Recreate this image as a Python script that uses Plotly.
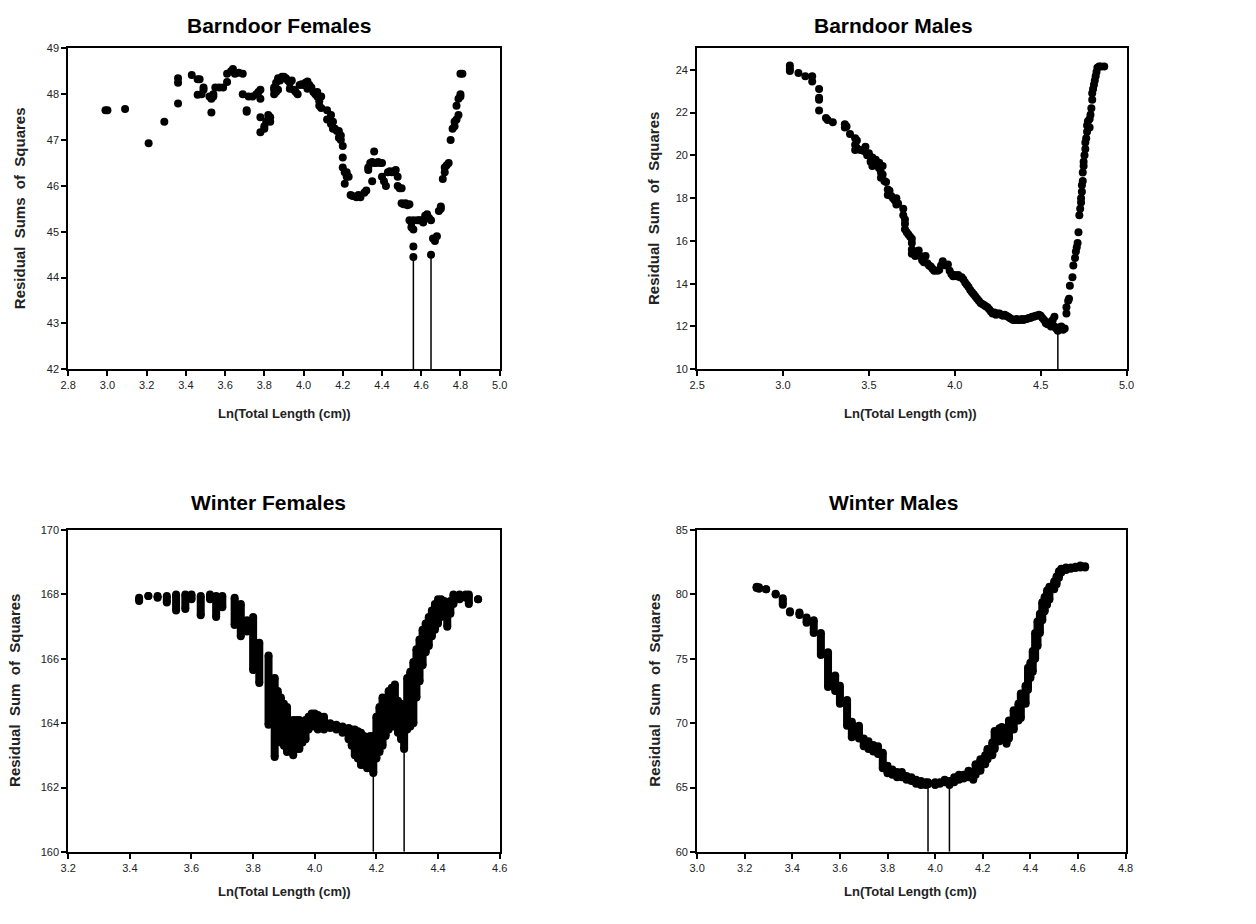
import plotly.graph_objects as go

# ---------------- data ----------------
barndoor_females_points = [
    (2.99, 47.65), (3.00, 47.65), (3.09, 47.68), (3.21, 46.93), (3.29, 47.40),
    (3.36, 48.25), (3.36, 48.35), (3.36, 47.80), (3.43, 48.42), (3.46, 48.33),
    (3.47, 48.33), (3.46, 47.99), (3.48, 48.00), (3.49, 48.10), (3.49, 48.15),
    (3.52, 47.95), (3.53, 47.60), (3.53, 47.90), (3.54, 47.95), (3.54, 48.00),
    (3.55, 48.15), (3.57, 48.15), (3.59, 48.15), (3.61, 48.27), (3.61, 48.45),
    (3.63, 48.50), (3.64, 48.55), (3.65, 48.45), (3.67, 48.47), (3.69, 48.45),
    (3.69, 48.00), (3.71, 47.62), (3.71, 47.65), (3.72, 47.95), (3.74, 47.95),
    (3.76, 48.00), (3.77, 48.05), (3.78, 48.10), (3.78, 47.90), (3.78, 47.50),
    (3.78, 47.17), (3.80, 47.30), (3.80, 47.25), (3.81, 47.40), (3.82, 47.45),
    (3.82, 47.55), (3.83, 47.50), (3.83, 47.40), (3.85, 48.00), (3.85, 48.10),
    (3.85, 48.15), (3.86, 48.05), (3.86, 48.25), (3.87, 48.35), (3.87, 48.10),
    (3.88, 48.30), (3.89, 48.38), (3.90, 48.38), (3.91, 48.35), (3.92, 48.30),
    (3.93, 48.25), (3.93, 48.12), (3.94, 48.30), (3.95, 48.10), (3.96, 48.05),
    (3.97, 48.00), (3.98, 48.20), (3.99, 48.22), (4.00, 48.20), (4.01, 48.25),
    (4.02, 48.28), (4.02, 48.12), (4.03, 48.20), (4.04, 48.15), (4.05, 48.05),
    (4.06, 48.00), (4.07, 48.05), (4.07, 47.95), (4.08, 47.85), (4.08, 47.75),
    (4.09, 47.95), (4.09, 47.70), (4.12, 47.65), (4.12, 47.45), (4.13, 47.45),
    (4.14, 47.55), (4.14, 47.35), (4.15, 47.40), (4.15, 47.25), (4.16, 47.25),
    (4.17, 47.20), (4.18, 47.20), (4.18, 47.05), (4.19, 47.00), (4.19, 47.10),
    (4.20, 46.87), (4.20, 46.62), (4.20, 46.40), (4.21, 46.30), (4.21, 46.05),
    (4.22, 46.20), (4.22, 46.30), (4.23, 46.20), (4.24, 45.80), (4.25, 45.78),
    (4.27, 45.75), (4.28, 45.80), (4.29, 45.75), (4.31, 45.85), (4.32, 45.90),
    (4.33, 46.35), (4.33, 46.40), (4.34, 46.50), (4.35, 46.52), (4.35, 46.10),
    (4.36, 46.75), (4.36, 46.50), (4.37, 46.50), (4.38, 46.52), (4.39, 46.50),
    (4.40, 46.50), (4.40, 46.20), (4.41, 46.10), (4.42, 46.00), (4.43, 46.30),
    (4.44, 46.32), (4.45, 46.30), (4.46, 46.32), (4.47, 46.35), (4.48, 46.20),
    (4.48, 46.00), (4.49, 45.95), (4.50, 45.95), (4.50, 45.62), (4.51, 45.60),
    (4.52, 45.62), (4.53, 45.58), (4.54, 45.60), (4.54, 45.25), (4.55, 45.20),
    (4.55, 45.10), (4.56, 45.25), (4.56, 45.05), (4.56, 44.68), (4.56, 44.45),
    (4.58, 45.25), (4.59, 45.25), (4.60, 45.25), (4.61, 45.20), (4.62, 45.35),
    (4.63, 45.38), (4.64, 45.30), (4.65, 45.25), (4.65, 44.50), (4.66, 44.85),
    (4.67, 44.80), (4.68, 44.90), (4.69, 45.45), (4.70, 45.50), (4.70, 45.55),
    (4.71, 46.15), (4.72, 46.30), (4.72, 46.40), (4.73, 46.45), (4.74, 46.50),
    (4.75, 47.00), (4.76, 47.25), (4.77, 47.30), (4.77, 47.40), (4.78, 47.45),
    (4.78, 47.75), (4.79, 47.55), (4.79, 47.90), (4.80, 48.00), (4.80, 47.95),
    (4.80, 48.45), (4.81, 48.45),
]

barndoor_males_points = [
    (3.04, 24.20), (3.04, 24.05), (3.04, 23.95), (3.09, 23.85), (3.13, 23.70),
    (3.17, 23.70), (3.17, 23.45), (3.21, 23.10), (3.21, 22.70), (3.21, 22.60),
    (3.21, 22.10), (3.25, 21.75), (3.26, 21.65), (3.29, 21.55), (3.36, 21.45),
    (3.36, 21.30), (3.37, 21.35), (3.39, 21.00), (3.42, 20.80), (3.42, 20.50),
    (3.42, 20.25), (3.43, 20.35), (3.43, 20.70), (3.45, 20.25), (3.47, 20.20),
    (3.48, 20.40), (3.49, 20.00), (3.50, 20.10), (3.51, 19.70), (3.52, 19.90),
    (3.52, 19.50), (3.53, 19.60), (3.54, 19.80), (3.55, 19.50), (3.56, 19.40),
    (3.56, 19.65), (3.57, 19.20), (3.57, 18.95), (3.58, 19.50), (3.58, 19.10),
    (3.59, 18.80), (3.60, 18.75), (3.61, 18.40), (3.61, 18.15), (3.62, 18.35),
    (3.63, 18.10), (3.64, 18.00), (3.65, 17.90), (3.66, 17.70), (3.66, 18.00),
    (3.67, 17.75), (3.70, 17.50), (3.70, 17.20), (3.71, 17.00), (3.71, 16.80),
    (3.71, 16.55), (3.72, 16.40), (3.73, 16.30), (3.74, 16.20), (3.75, 15.90),
    (3.75, 16.10), (3.75, 15.60), (3.75, 15.40), (3.76, 15.50), (3.77, 15.30),
    (3.78, 15.50), (3.79, 15.55), (3.80, 15.30), (3.81, 15.10), (3.82, 15.00),
    (3.83, 15.30), (3.84, 14.95), (3.85, 14.85), (3.86, 14.80), (3.87, 14.70),
    (3.88, 14.60), (3.90, 14.60), (3.91, 14.65), (3.92, 14.85), (3.93, 15.05),
    (3.95, 14.85), (3.96, 14.90), (3.97, 14.60), (3.98, 14.45), (3.99, 14.35),
    (4.00, 14.40), (4.01, 14.35), (4.02, 14.40), (4.03, 14.30), (4.04, 14.30),
    (4.05, 14.20), (4.06, 14.05), (4.07, 13.95), (4.08, 13.85), (4.09, 13.70),
    (4.10, 13.60), (4.11, 13.50), (4.12, 13.40), (4.13, 13.30), (4.14, 13.20),
    (4.15, 13.10), (4.16, 13.05), (4.17, 13.00), (4.18, 12.95), (4.19, 12.90),
    (4.20, 12.80), (4.21, 12.70), (4.22, 12.60), (4.23, 12.65), (4.24, 12.55),
    (4.25, 12.60), (4.26, 12.60), (4.27, 12.55), (4.28, 12.50), (4.29, 12.55),
    (4.30, 12.50), (4.31, 12.45), (4.32, 12.40), (4.33, 12.35), (4.34, 12.30),
    (4.35, 12.30), (4.36, 12.35), (4.37, 12.30), (4.38, 12.30), (4.39, 12.35),
    (4.40, 12.30), (4.41, 12.35), (4.42, 12.35), (4.43, 12.40), (4.44, 12.40),
    (4.45, 12.45), (4.46, 12.45), (4.47, 12.50), (4.48, 12.50), (4.49, 12.55),
    (4.50, 12.50), (4.51, 12.40), (4.52, 12.30), (4.53, 12.15), (4.54, 12.10),
    (4.55, 12.20), (4.56, 12.00), (4.57, 12.30), (4.58, 12.45), (4.58, 12.00),
    (4.59, 11.90), (4.60, 11.80), (4.61, 11.95), (4.62, 12.00), (4.63, 11.85),
    (4.64, 11.90), (4.65, 12.60), (4.65, 12.90), (4.66, 13.20), (4.665, 13.30),
    (4.67, 13.90), (4.685, 14.30), (4.69, 14.85), (4.70, 15.20), (4.705, 15.50),
    (4.71, 15.70), (4.715, 15.90), (4.72, 16.40), (4.725, 17.20), (4.73, 17.50),
    (4.735, 17.80), (4.735, 18.00), (4.74, 18.30), (4.74, 18.60), (4.745, 18.80),
    (4.745, 19.20), (4.75, 19.50), (4.75, 19.70), (4.755, 20.00), (4.76, 20.30),
    (4.76, 20.60), (4.765, 20.80), (4.77, 21.10), (4.77, 21.40), (4.775, 21.60),
    (4.785, 21.70), (4.785, 21.30), (4.79, 21.90), (4.795, 22.20), (4.80, 22.60),
    (4.80, 22.90), (4.805, 23.10), (4.81, 23.30), (4.815, 23.50), (4.82, 23.70),
    (4.825, 23.90), (4.83, 24.10), (4.84, 24.15), (4.85, 24.15), (4.87, 24.15),
]

# (x, top, bottom) of each column of overlapping points
winter_females_stacks = [
    (3.43, 167.90, 167.80), (3.46, 167.95, 167.95), (3.49, 167.95, 167.90),
    (3.52, 167.95, 167.75), (3.55, 168.00, 167.50), (3.58, 168.00, 167.55),
    (3.60, 168.00, 167.85), (3.63, 167.95, 167.35), (3.66, 168.00, 167.85),
    (3.68, 167.95, 167.30), (3.70, 167.95, 167.60), (3.74, 167.90, 167.05),
    (3.76, 167.70, 166.70), (3.78, 167.20, 166.85), (3.79, 167.10, 166.90),
    (3.80, 167.30, 165.65), (3.82, 166.50, 165.25), (3.85, 166.10, 163.95),
    (3.87, 165.40, 162.95), (3.88, 165.00, 163.50), (3.89, 164.80, 163.40),
    (3.90, 164.60, 163.30), (3.91, 164.50, 163.10), (3.92, 164.00, 163.30),
    (3.93, 164.10, 163.00), (3.94, 164.10, 163.20), (3.95, 164.10, 163.20),
    (3.96, 164.00, 163.40), (3.97, 164.10, 163.50), (3.98, 164.20, 163.80),
    (3.99, 164.30, 163.90), (4.00, 164.30, 163.90), (4.01, 164.25, 163.80),
    (4.02, 164.20, 163.85), (4.03, 164.20, 163.80), (4.05, 164.00, 163.85),
    (4.07, 163.95, 163.80), (4.09, 163.90, 163.70), (4.11, 163.85, 163.50),
    (4.12, 163.80, 163.30), (4.13, 163.80, 163.00), (4.14, 163.75, 162.90),
    (4.15, 163.70, 162.70), (4.16, 163.60, 162.70), (4.17, 163.50, 162.60),
    (4.18, 163.60, 162.60), (4.19, 163.60, 162.45),
    (4.20, 164.20, 162.90), (4.21, 164.50, 163.10), (4.22, 164.80, 163.30),
    (4.23, 164.70, 163.60), (4.24, 165.00, 163.80), (4.25, 165.10, 163.90),
    (4.26, 165.20, 163.90), (4.27, 164.70, 163.70), (4.28, 164.60, 163.50),
    (4.29, 164.30, 163.20),
    (4.30, 165.40, 163.80), (4.31, 165.60, 163.90), (4.32, 165.90, 164.00),
    (4.33, 166.30, 164.80), (4.34, 166.60, 165.30), (4.35, 166.90, 165.80),
    (4.36, 167.10, 166.20), (4.37, 167.30, 166.40), (4.38, 167.50, 166.70),
    (4.39, 167.70, 166.90), (4.40, 167.85, 167.10), (4.41, 167.85, 167.30),
    (4.42, 167.80, 167.40), (4.43, 167.70, 167.00), (4.44, 167.80, 167.40),
    (4.45, 168.00, 167.70), (4.47, 168.00, 167.85), (4.49, 168.00, 167.90),
    (4.50, 168.00, 167.70), (4.53, 167.85, 167.85),
]

winter_males_stacks = [
    (3.25, 80.60, 80.50), (3.26, 80.55, 80.45), (3.29, 80.40, 80.40),
    (3.33, 80.05, 80.00), (3.36, 79.70, 79.20), (3.39, 78.70, 78.60),
    (3.43, 78.60, 78.40), (3.46, 78.20, 77.80), (3.49, 78.00, 77.00),
    (3.52, 77.00, 75.30), (3.55, 75.50, 72.80), (3.58, 73.70, 72.50),
    (3.60, 72.90, 71.50), (3.63, 71.80, 69.80), (3.65, 70.10, 68.90),
    (3.68, 69.80, 68.80), (3.70, 68.80, 68.20), (3.72, 68.60, 68.00),
    (3.74, 68.30, 67.80), (3.76, 68.20, 67.60), (3.78, 67.70, 66.50),
    (3.80, 66.70, 66.10), (3.82, 66.40, 66.00), (3.84, 66.20, 65.80),
    (3.86, 66.20, 65.80), (3.88, 65.90, 65.60), (3.90, 65.80, 65.50),
    (3.92, 65.60, 65.30), (3.94, 65.50, 65.20), (3.96, 65.40, 65.20),
    (3.97, 65.40, 65.25), (4.00, 65.40, 65.20), (4.02, 65.40, 65.30),
    (4.04, 65.60, 65.40), (4.06, 65.50, 65.20), (4.08, 65.80, 65.40),
    (4.10, 66.00, 65.60), (4.12, 66.00, 65.70), (4.14, 66.30, 65.80),
    (4.16, 66.20, 65.60), (4.17, 66.80, 66.00), (4.19, 67.20, 66.30),
    (4.21, 67.50, 66.80), (4.22, 68.00, 67.20), (4.24, 68.50, 67.50),
    (4.25, 69.40, 68.00), (4.27, 69.60, 68.60), (4.28, 69.70, 68.80),
    (4.30, 69.30, 68.40), (4.31, 70.20, 68.80), (4.33, 71.00, 69.50),
    (4.35, 71.50, 70.20), (4.36, 72.30, 70.40), (4.38, 72.90, 71.50),
    (4.39, 74.30, 72.60), (4.40, 74.70, 73.50), (4.41, 75.60, 74.00),
    (4.42, 77.00, 75.00), (4.43, 77.90, 76.00), (4.44, 78.50, 77.00),
    (4.45, 79.40, 78.00), (4.46, 79.80, 78.70), (4.47, 80.30, 79.20),
    (4.48, 80.60, 79.60), (4.50, 81.00, 80.40), (4.51, 81.40, 80.80),
    (4.52, 81.80, 81.30), (4.53, 82.00, 81.70), (4.55, 82.10, 81.90),
    (4.57, 82.10, 82.00), (4.59, 82.15, 82.05), (4.61, 82.25, 82.10),
    (4.63, 82.20, 82.10),
]

# drop lines at the minima: (x, y of the point the line reaches)
barndoor_females_lines = [(4.56, 44.45), (4.65, 44.50)]
barndoor_males_lines = [(4.60, 11.80)]
winter_females_lines = [(4.19, 162.45), (4.29, 163.20)]
winter_males_lines = [(3.97, 65.25), (4.06, 65.20)]

panel_titles = ["Barndoor Females", "Barndoor Males", "Winter Females", "Winter Males"]
y_titles = ["Residual Sums of Squares", "Residual Sum of Squares",
            "Residual Sum of Squares", "Residual Sum of Squares"]
x_title = "Ln(Total Length (cm))"

x_ranges = [(2.8, 5.0, 0.2), (2.5, 5.0, 0.5), (3.2, 4.6, 0.2), (3.0, 4.8, 0.2)]
y_ranges = [(42, 49, 1), (10, 25, 2), (160, 170, 2), (60, 85, 5)]

# ---------------- figure ----------------
W, H = 1256, 924
FONT = "Liberation Sans, Arial, sans-serif"

# plot-area boxes in pixels: (left, right, top, bottom)
boxes = [(61, 498, 43, 368), (698, 1133, 43, 368),
         (61, 498, 531, 857), (698, 1132, 531, 857)]
title_pos = [(274, 20), (897, 20), (264, 503), (897, 503)]
xtitle_pos = [(280, 413), (914, 413), (280, 897), (914, 897)]
ytitle_pos = [(11, 205), (654, 205), (6, 693), (654, 693)]

fig = go.Figure()
marker = dict(color="black", size=8, line=dict(width=0))


def add_points(i, pts):
    fig.add_trace(go.Scatter(
        x=[p[0] for p in pts], y=[p[1] for p in pts], mode="markers",
        marker=marker, xaxis=f"x{i+1}", yaxis=f"y{i+1}", showlegend=False,
        hoverinfo="x+y"))


def add_stacks(i, stacks):
    xs, ys = [], []
    for x, top, bot in stacks:
        xs += [x, x, None]
        ys += [top, bot, None]
    fig.add_trace(go.Scatter(
        x=xs, y=ys, mode="lines+markers", marker=marker,
        line=dict(color="black", width=8), connectgaps=False,
        xaxis=f"x{i+1}", yaxis=f"y{i+1}", showlegend=False, hoverinfo="x+y"))


def add_droplines(i, lines, ymin):
    xs, ys = [], []
    for x, y in lines:
        xs += [x, x, None]
        ys += [ymin, y, None]
    fig.add_trace(go.Scatter(
        x=xs, y=ys, mode="lines", line=dict(color="black", width=1.5),
        xaxis=f"x{i+1}", yaxis=f"y{i+1}", showlegend=False, hoverinfo="skip"))


add_droplines(0, barndoor_females_lines, y_ranges[0][0])
add_points(0, barndoor_females_points)
add_droplines(1, barndoor_males_lines, y_ranges[1][0])
add_points(1, barndoor_males_points)
add_droplines(2, winter_females_lines, y_ranges[2][0])
add_stacks(2, winter_females_stacks)
add_droplines(3, winter_males_lines, y_ranges[3][0])
add_stacks(3, winter_males_stacks)

layout = dict(
    width=W, height=H, margin=dict(l=0, r=0, t=0, b=0),
    paper_bgcolor="white", plot_bgcolor="white", showlegend=False,
    font=dict(family=FONT, color="#222", size=11),
)
SEP = " \u00a0"
annotations = []
for i in range(4):
    l, r, t, b = boxes[i]
    x0, x1, dx = x_ranges[i]
    y0, y1, dy = y_ranges[i]
    axis_common = dict(showline=True, linecolor="black", linewidth=2, mirror=True,
                       ticks="outside", ticklen=5, tickwidth=1.5, tickcolor="black",
                       showgrid=False, zeroline=False, fixedrange=True,
                       tickfont=dict(family=FONT, size=11, color="#222"))
    layout[f"xaxis{i+1}"] = dict(axis_common, domain=[l / W, r / W], range=[x0, x1],
                                 tick0=x0, dtick=dx, tickformat=".1f",
                                 anchor=f"y{i+1}")
    layout[f"yaxis{i+1}"] = dict(axis_common, domain=[1 - b / H, 1 - t / H],
                                 range=[y0, y1], tick0=y0, dtick=dy,
                                 anchor=f"x{i+1}")
    tx, ty = title_pos[i]
    annotations.append(dict(text=f"<b>{panel_titles[i]}</b>", x=tx / W, y=1 - ty / H,
                            xref="paper", yref="paper", showarrow=False,
                            xanchor="center", yanchor="middle",
                            font=dict(family=FONT, size=21, color="black")))
    ax, ay = xtitle_pos[i]
    annotations.append(dict(text=f"<b>{x_title}</b>", x=ax / W, y=1 - ay / H,
                            xref="paper", yref="paper", showarrow=False,
                            xanchor="center", yanchor="middle",
                            font=dict(family=FONT, size=13, color="#222")))
    yx, yy = ytitle_pos[i]
    ytxt = SEP.join(y_titles[i].split(" "))
    annotations.append(dict(text=f"<b>{ytxt}</b>", x=yx / W, y=1 - yy / H,
                            xref="paper", yref="paper", showarrow=False,
                            xanchor="center", yanchor="middle", textangle=-90,
                            font=dict(family=FONT, size=15, color="#222")))
layout["annotations"] = annotations
fig.update_layout(**layout)

fig.write_html("out.html")
